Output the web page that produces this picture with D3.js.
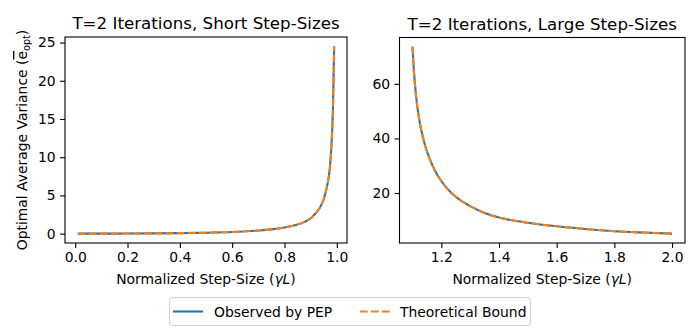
<!DOCTYPE html>
<html><head><meta charset="utf-8">
<script src="https://cdn.jsdelivr.net/npm/d3@7"></script>
<style>
body{margin:0;background:#fff;}
svg{display:block;font-family:"DejaVu Sans",sans-serif;}
</style></head>
<body><svg id="c" width="688" height="332"></svg>
<script>
// Left panel (short step-sizes)
const shortX = [0.01,0.1,0.2,0.3,0.4,0.5,0.6,0.7,0.75,0.8,0.85,0.875,0.9,0.91,0.925,0.94,0.95,0.96,0.97,0.975,0.98,0.985,0.99];
const shortObserved = [0.0,0.003,0.012,0.032,0.067,0.125,0.225,0.41,0.56,0.8,1.2,1.5,2.0,2.35,2.9,3.7,4.5,5.8,7.6,9.2,11.8,16.0,24.5];
const shortTheory = shortObserved.slice();
// Right panel (large step-sizes)
const largeX = [1.1,1.105,1.113,1.125,1.14,1.16,1.18,1.2,1.22,1.25,1.3,1.35,1.4,1.45,1.5,1.55,1.6,1.7,1.8,1.9,2.0];
const largeObserved = [73.6,64.5,55.0,46.0,38.8,32.4,27.8,24.4,21.7,18.6,15.2,12.7,11.0,9.9,9.1,8.4,7.8,6.8,6.0,5.5,5.1];
const largeTheory = largeObserved.slice();
const leftXTicks = [0.0,0.2,0.4,0.6,0.8,1.0];
const leftYTicks = [0,5,10,15,20,25];
const rightXTicks = [1.2,1.4,1.6,1.8,2.0];
const rightYTicks = [20,40,60];
const titles = ["T=2 Iterations, Short Step-Sizes","T=2 Iterations, Large Step-Sizes"];
const legendLabels = ["Observed by PEP","Theoretical Bound"];

const svg = d3.select("#c");
const blue = "#1f77b4", orange = "#ff7f0e";
const FS = "13.9px";

function panel(cfg){
  const g = svg.append("g");
  const x = d3.scaleLinear().domain(cfg.xd).range([cfg.l, cfg.r]);
  const y = d3.scaleLinear().domain(cfg.yd).range([cfg.b, cfg.t]);
  const line = d3.line().x((d,i)=>x(cfg.xs[i])).y(d=>y(d)).curve(d3.curveMonotoneX);
  g.append("path").attr("d", line(cfg.obs)).attr("fill","none").attr("stroke",blue).attr("stroke-width",2.08);
  g.append("path").attr("d", line(cfg.th)).attr("fill","none").attr("stroke",orange).attr("stroke-width",2.08).attr("stroke-dasharray","7.7,3.3");
  const xa = g.append("g").attr("transform",`translate(0,${cfg.b})`)
    .call(d3.axisBottom(x).tickValues(cfg.xt).tickFormat(d3.format(".1f")).tickSize(4.9).tickPadding(4.4));
  const ya = g.append("g").attr("transform",`translate(${cfg.l},0)`)
    .call(d3.axisLeft(y).tickValues(cfg.yt).tickFormat(d3.format("d")).tickSize(4.9).tickPadding(4.4));
  [xa,ya].forEach(a=>{
    a.select(".domain").remove();
    a.selectAll("line").attr("stroke","#000").attr("stroke-width",1.1);
    a.selectAll("text").attr("fill","#000").style("font-size",FS).style("font-family","DejaVu Sans");
  });
  g.append("rect").attr("x",cfg.l).attr("y",cfg.t).attr("width",cfg.r-cfg.l).attr("height",cfg.b-cfg.t)
    .attr("fill","none").attr("stroke","#000").attr("stroke-width",1.1);
  g.append("text").attr("x",(cfg.l+cfg.r)/2).attr("y",cfg.t-8).attr("text-anchor","middle")
    .style("font-size","16.7px").attr("fill","#000").text(cfg.title);
  const xl = g.append("text").attr("x",(cfg.l+cfg.r)/2).attr("y",284).attr("text-anchor","middle")
    .style("font-size",FS).attr("fill","#000");
  xl.append("tspan").text("Normalized Step-Size (");
  xl.append("tspan").style("font-style","italic").text("γL");
  xl.append("tspan").text(")");
}

panel({l:65,r:347,t:37,b:243,xd:[-0.039,1.039],yd:[-1.225,25.725],xs:shortX,obs:shortObserved,th:shortTheory,
  xt:leftXTicks,yt:leftYTicks,title:titles[0]});
panel({l:399.5,r:685,t:37.5,b:243,xd:[1.055,2.045],yd:[1.68,76.98],xs:largeX,obs:largeObserved,th:largeTheory,
  xt:rightXTicks,yt:rightYTicks,title:titles[1]});

// y label
const yl = svg.append("text").attr("transform","translate(27,140) rotate(-90)").attr("text-anchor","middle")
  .style("font-size",FS).attr("fill","#000");
yl.append("tspan").text("Optimal Average Variance (");
yl.append("tspan").style("text-decoration","overline").text("e");
yl.append("tspan").attr("dy",3).style("font-size","9.7px").text("opt");
yl.append("tspan").attr("dy",-3).text(")");

// legend
const lg = svg.append("g");
lg.append("rect").attr("x",169.5).attr("y",297.5).attr("width",361).attr("height",28).attr("rx",3)
  .attr("fill","#fff").attr("stroke","#d0d0d0").attr("stroke-width",1);
lg.append("line").attr("x1",173).attr("x2",203).attr("y1",311.5).attr("y2",311.5).attr("stroke",blue).attr("stroke-width",2.08);
lg.append("text").attr("x",214).attr("y",316.5).style("font-size",FS).attr("fill","#000").text(legendLabels[0]);
lg.append("line").attr("x1",360).attr("x2",390).attr("y1",311.5).attr("y2",311.5).attr("stroke",orange).attr("stroke-width",2.08).attr("stroke-dasharray","7.7,3.3");
lg.append("text").attr("x",400).attr("y",316.5).style("font-size",FS).attr("fill","#000").text(legendLabels[1]);
</script></body></html>
